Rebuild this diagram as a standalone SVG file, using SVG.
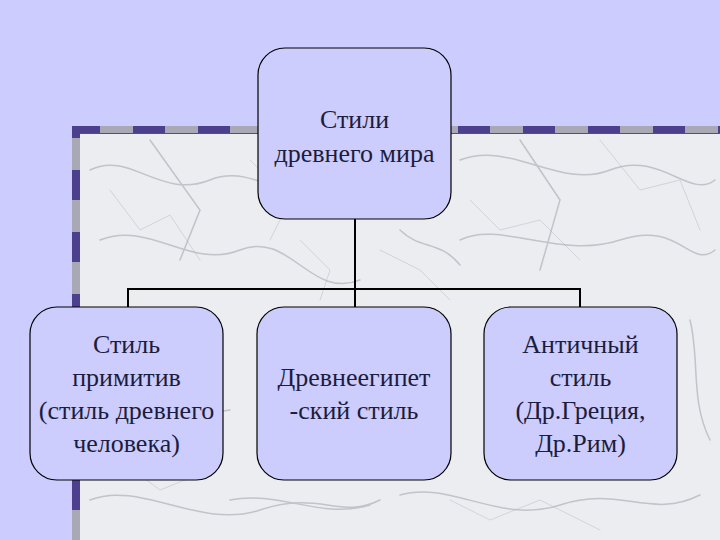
<svg xmlns="http://www.w3.org/2000/svg" width="720" height="540" viewBox="0 0 720 540">
  <style>
    .node rect { fill: #ccccfd; stroke: #000; stroke-width: 1.2; }
    .conn { stroke: #000; stroke-width: 2; fill: none; }
    .vein { fill: none; stroke: #b8b9c2; stroke-linecap: round; }
  </style>

  <rect x="0" y="0" width="720" height="540" fill="#ccccff"/>
  <g id="frame">
    <rect x="80" y="134" width="640" height="406" fill="#ecedf0"/>
    <g class="vein" stroke-width="1.5" opacity="0.8">
      <path d="M90 170 C130 150 160 200 210 180 S300 220 340 190"/>
      <path d="M100 240 C150 220 190 270 240 250 S310 300 360 280"/>
      <path d="M85 320 C120 300 170 350 220 330"/>
      <path d="M95 400 C140 380 180 420 230 410"/>
      <path d="M90 500 C140 480 200 530 260 510 S340 520 380 500"/>
      <path d="M460 160 C510 140 560 190 610 170 S690 200 715 180"/>
      <path d="M460 240 C500 220 560 260 620 240 S690 270 715 250"/>
      <path d="M690 320 C700 360 690 400 710 440"/>
      <path d="M230 500 C280 490 320 520 370 505"/>
      <path d="M400 495 C450 480 500 525 560 505 S650 520 700 495"/>
      <path d="M150 140 L200 210 L180 260"/>
      <path d="M520 140 L560 200 L540 270"/>
      <path d="M400 230 C420 250 440 240 460 265"/>
    </g>
    <g class="vein" stroke-width="0.8" opacity="0.6">
      <path d="M110 190 L140 230 L170 215 L200 260"/>
      <path d="M250 160 L290 200 L270 240"/>
      <path d="M470 200 L500 230 L540 220 L580 260"/>
      <path d="M600 140 L640 190 L680 180 L700 230"/>
      <path d="M120 460 L160 490 L210 470"/>
      <path d="M450 500 L490 520 L540 500 L600 530"/>
      <path d="M300 240 L330 270 L320 300"/>
      <path d="M380 250 L420 270 L450 300"/>
    </g>
    <rect x="72" y="126" width="648" height="8" fill="#a9a9b6"/>
    <line x1="72" y1="130" x2="720" y2="130" stroke="#4b3f8e" stroke-width="8" stroke-dasharray="32 33" stroke-dashoffset="4"/>
    <rect x="72" y="134" width="8" height="406" fill="#a9a9b6"/>
    <line x1="76" y1="134" x2="76" y2="540" stroke="#4b3f8e" stroke-width="8" stroke-dasharray="30 32" stroke-dashoffset="26"/>
    <line x1="80" y1="133.5" x2="720" y2="133.5" stroke="#555" stroke-width="1"/>
  </g>

  <g id="connectors">
    <line class="conn" x1="355" y1="219" x2="355" y2="289"/>
    <line class="conn" x1="127" y1="289" x2="581" y2="289"/>
    <line class="conn" x1="128" y1="288" x2="128" y2="308"/>
    <line class="conn" x1="355" y1="288" x2="355" y2="308"/>
    <line class="conn" x1="580" y1="288" x2="580" y2="308"/>
  </g>

  <g id="node-root" class="node">
    <rect x="258" y="48" width="193" height="171" rx="27"/>
    <text x="354.5" y="128" font-family="Liberation Serif" font-size="26" fill="#1c1c3c" text-anchor="middle">Стили</text>
    <text x="354.5" y="162" font-family="Liberation Serif" font-size="26" fill="#1c1c3c" text-anchor="middle">древнего мира</text>
  </g>
  <g id="node-primitive" class="node">
    <rect x="30" y="307" width="193" height="173" rx="27"/>
    <text x="126.5" y="353" font-family="Liberation Serif" font-size="26" fill="#1c1c3c" text-anchor="middle">Стиль</text>
    <text x="126.5" y="386" font-family="Liberation Serif" font-size="26" fill="#1c1c3c" text-anchor="middle">примитив</text>
    <text x="126.5" y="419" font-family="Liberation Serif" font-size="26" fill="#1c1c3c" text-anchor="middle">(стиль древнего</text>
    <text x="126.5" y="452" font-family="Liberation Serif" font-size="26" fill="#1c1c3c" text-anchor="middle">человека)</text>
  </g>
  <g id="node-egypt" class="node">
    <rect x="257" y="307" width="194" height="173" rx="27"/>
    <text x="354" y="386" font-family="Liberation Serif" font-size="26" fill="#1c1c3c" text-anchor="middle">Древнеегипет</text>
    <text x="354" y="419" font-family="Liberation Serif" font-size="26" fill="#1c1c3c" text-anchor="middle">-ский стиль</text>
  </g>
  <g id="node-antique" class="node">
    <rect x="484" y="307" width="193" height="173" rx="27"/>
    <text x="580.5" y="353" font-family="Liberation Serif" font-size="26" fill="#1c1c3c" text-anchor="middle">Античный</text>
    <text x="580.5" y="386" font-family="Liberation Serif" font-size="26" fill="#1c1c3c" text-anchor="middle">стиль</text>
    <text x="580.5" y="419" font-family="Liberation Serif" font-size="26" fill="#1c1c3c" text-anchor="middle">(Др.Греция,</text>
    <text x="580.5" y="452" font-family="Liberation Serif" font-size="26" fill="#1c1c3c" text-anchor="middle">Др.Рим)</text>
  </g>
</svg>
